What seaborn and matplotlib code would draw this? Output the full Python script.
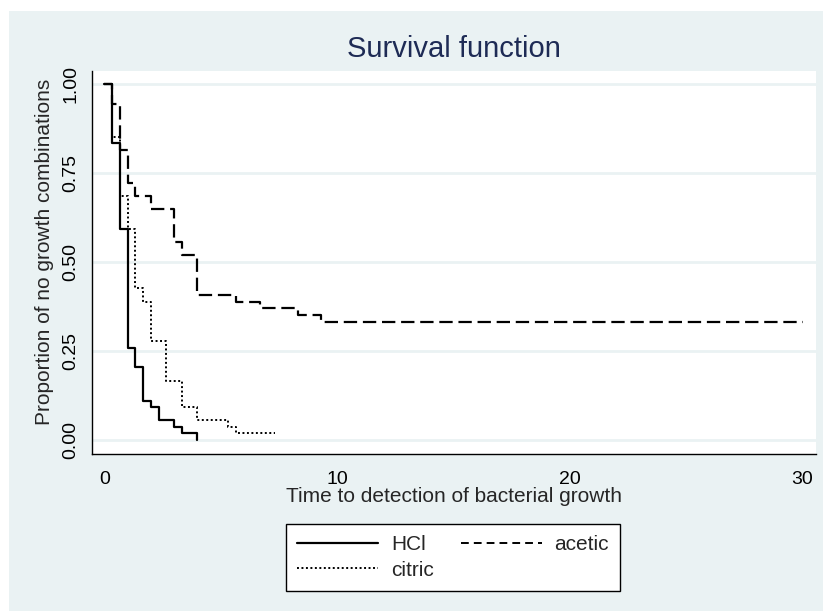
import matplotlib
matplotlib.use("Agg")
import matplotlib.pyplot as plt
from matplotlib.lines import Line2D
from matplotlib.patches import Rectangle
import seaborn as sns
import pandas as pd

# ---- data ----
time_hcl = [0, 0.33, 0.67, 1.0, 1.33, 1.67, 2.0, 2.33, 3.0, 3.33, 4.0]
surv_hcl = [1.0, 0.833, 0.593, 0.259, 0.204, 0.111, 0.093, 0.056, 0.037, 0.019, 0.0]

time_acetic = [0, 0.33, 0.67, 1.0, 1.33, 2.0, 3.0, 3.33, 4.0, 5.67, 6.67, 8.33, 9.33, 30.0]
surv_acetic = [1.0, 0.944, 0.815, 0.722, 0.685, 0.648, 0.556, 0.519, 0.407, 0.389, 0.370, 0.352, 0.333, 0.333]

time_citric = [0, 0.33, 0.67, 1.0, 1.33, 1.67, 2.0, 2.67, 3.33, 4.0, 5.33, 5.67, 7.33]
surv_citric = [1.0, 0.852, 0.685, 0.593, 0.426, 0.389, 0.278, 0.167, 0.093, 0.056, 0.037, 0.019, 0.019]

x_ticks = [0, 10, 20, 30]
y_ticks = [0.0, 0.25, 0.50, 0.75, 1.00]
y_ticklabels = ["0.00", "0.25", "0.50", "0.75", "1.00"]

title = "Survival function"
xlabel = "Time to detection of bacterial growth"
ylabel = "Proportion of no growth combinations"

# ---- style ----
sns.set_style("white")
plt.rcParams["font.family"] = ["Liberation Sans", "DejaVu Sans"]

BG = "#EAF2F3"
W, H = 823, 611
fig = plt.figure(figsize=(W / 100, H / 100), dpi=100)
fig.patch.set_facecolor("white")
fig.patches.append(Rectangle((9 / W, 0), 1, (H - 11) / H, transform=fig.transFigure,
                             facecolor=BG, edgecolor="none", zorder=-10))

ax = fig.add_axes([92 / W, (H - 454) / H, (816 - 92) / W, (454 - 71) / H])
ax.set_facecolor("white")

styles = {
    "HCl": dict(linestyle="-", lw=1.6),
    "acetic": dict(linestyle=(0, (6, 2.6)), lw=1.6),
    "citric": dict(linestyle=(0, (1, 1.3)), lw=1.4),
}
series = {
    "HCl": (time_hcl, surv_hcl),
    "acetic": (time_acetic, surv_acetic),
    "citric": (time_citric, surv_citric),
}
for name, (t, s) in series.items():
    df = pd.DataFrame({"time": t, "surv": s})
    sns.lineplot(data=df, x="time", y="surv", ax=ax, color="black",
                 drawstyle="steps-post", estimator=None, legend=False,
                 **styles[name])

ax.set_xlim(-0.53, 30.58)
ax.set_ylim(-0.039, 1.0365)
ax.set_xticks(x_ticks)
ax.set_yticks(y_ticks)
ax.set_yticklabels(y_ticklabels, rotation=90, va="center")
ax.yaxis.grid(True, color=BG, lw=2)
ax.xaxis.grid(False)
ax.set_axisbelow(True)

for side in ["top", "right"]:
    ax.spines[side].set_visible(False)
for side in ["left", "bottom"]:
    ax.spines[side].set_color("black")
    ax.spines[side].set_linewidth(1.0)

ax.tick_params(axis="both", which="major", direction="out", length=6,
               width=1, color="#333333", labelsize=14, labelcolor="black")
ax.tick_params(axis="y", pad=3)
ax.tick_params(axis="x", pad=6)
ax.set_xlabel("")
ax.set_ylabel("")

fig.text(454 / W, 1 - 49 / H, title, ha="center", va="center",
         fontsize=21, color="#1E2B55")
fig.text(454 / W, 1 - 497 / H, xlabel, ha="center", va="center", fontsize=15)
fig.text(45 / W, 1 - 252 / H, ylabel, ha="center", va="center",
         rotation=90, fontsize=15)

handles = [
    Line2D([], [], color="black", **styles["HCl"]),
    Line2D([], [], color="black", **styles["citric"]),
    Line2D([], [], color="black", lw=1.4, linestyle=(0, (4, 2.6))),
]
labels = ["HCl", "citric", "acetic"]
leg = fig.legend(handles, labels, ncol=2, loc="center",
                 bbox_to_anchor=(453 / W, 1 - 557.5 / H), fontsize=15,
                 frameon=True, fancybox=False, edgecolor="black", framealpha=1.0,
                 handlelength=3.9, handletextpad=0.6, columnspacing=1.3,
                 labelspacing=0.3, borderpad=0.55, borderaxespad=0)
leg.get_frame().set_linewidth(1.0)
leg.get_frame().set_facecolor("white")

fig.savefig("out.png", dpi=100)
